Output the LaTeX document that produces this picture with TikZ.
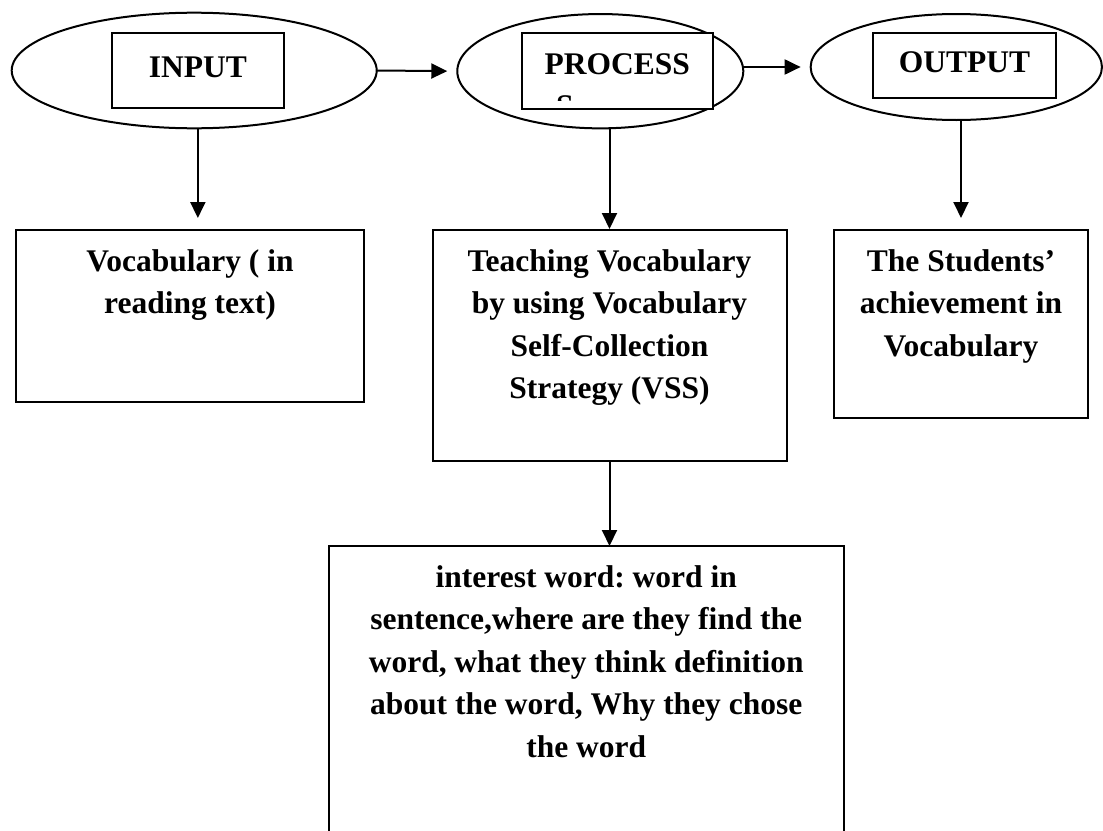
\documentclass[tikz,border=0pt]{standalone}
\usepackage{fontspec}
\setmainfont{Liberation Serif}
\usetikzlibrary{shapes.geometric,arrows.meta}
\frenchspacing
\newcommand\mybox[4]{\parbox[c][#2][t]{#1}{\centering\frenchspacing\rule{0pt}{#3}#4}}
\begin{document}
\begin{tikzpicture}[x=0.5pt,y=-0.5pt,
  every node/.style={inner sep=0pt, outer sep=0pt},
  oval/.style={draw, ellipse, line width=1pt},
  frame/.style={draw, rectangle, line width=1pt, fill=white},
  conn/.style={line width=1pt, -{Triangle[length=8pt,width=7.5pt]}},
  font=\fontsize{15.75}{21.25}\selectfont\bfseries]
\useasboundingbox (0,0) rectangle (1103,830);
\clip (0,0) rectangle (1103,830);

% ovals
\node[oval, minimum width=182.5pt, minimum height=57.8pt] (e1) at (194.2,70.5) {};
\node[oval, minimum width=143pt, minimum height=57.15pt] (e2) at (600.3,71.2) {};
\node[oval, minimum width=145.65pt, minimum height=53pt] (e3) at (956.3,67) {};

% title frames
\node[frame] (r1) at (197.85,70.8) {\mybox{86.15pt}{37.5pt}{21.85pt}{INPUT}};
\node[frame] (r2) at (617.35,71.3) {\mybox{95.35pt}{38pt}{20.35pt}{PROCESS}};
\node[frame] (r3) at (964.5,65.8) {\mybox{91.2pt}{32.5pt}{19.7pt}{OUTPUT}};
\begin{scope}
  \clip (522,33) rectangle (713,100);
  \node[anchor=base] (s) at (565,116) {S};
\end{scope}

% content boxes
\node[frame] (b1) at (190,316) {\mybox{174.25pt}{86pt}{20.5pt}{Vocabulary ( in\\reading text)}};
\node[frame] (b2) at (609.5,345.5) {\mybox{177pt}{115.5pt}{20.5pt}{Teaching Vocabulary\\by using Vocabulary\\Self-Collection\\Strategy (VSS)}};
\node[frame] (b3) at (961,324) {\mybox{127pt}{94pt}{20.5pt}{The Students’\\achievement in\\Vocabulary}};
\node[frame] (b4) at (586.25,723) {\mybox{257.75pt}{177pt}{20.5pt}{interest word: word in\\sentence,where are they find the\\word, what they think definition\\about the word, Why they chose\\the word}};

% connectors
\draw[conn, shorten >=5pt] (e1.east) -- (e2.west);
\draw[conn, shorten >=5pt] (e2.east |- e3.west) -- (e3.west);
\draw[conn, shorten >=6pt] (r1 |- e1.south) -- (r1 |- b1.north);
\draw[conn, shorten >=0.5pt] (b2.north |- e2.south) -- (b2.north);
\draw[conn, shorten >=6pt] (b3.north |- e3.south) -- (b3.north);
\draw[conn] (b2.south) -- (b2.south |- b4.north);
\end{tikzpicture}
\end{document}
